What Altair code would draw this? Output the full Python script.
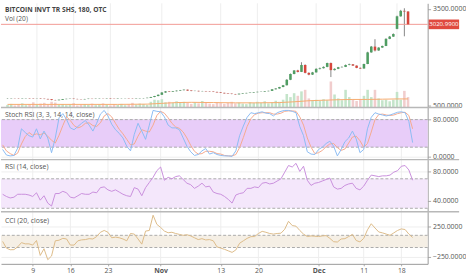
import altair as alt
import pandas as pd

# ---------------- data ----------------
bar_index = list(range(110))
opens = [716,720,726,722,717,724,729,722,716,720,
         712,706,694,672,666,681,700,708,713,705,
         699,694,703,711,706,712,718,714,721,712,
         707,715,719,723,717,712,720,726,731,741,
         765,795,835,905,940,928,946,962,978,992,
         966,951,956,944,950,941,934,924,909,894,
         879,868,858,848,868,881,892,902,915,926,
         931,946,956,1005,1030,1075,1130,1300,1480,1590,
         1545,1760,1515,1460,1530,1640,1660,1700,1820,1600,
         1640,1690,1700,1760,1780,1740,1670,1650,1790,2150,
         2330,2210,2300,2350,2570,2640,2880,3270,3440,3420]
highs = [728,730,729,725,728,733,731,726,725,722,
         715,709,697,678,685,704,712,718,716,709,
         702,707,715,714,716,722,721,725,723,715,
         719,723,727,725,720,724,730,735,746,770,
         800,842,915,948,945,952,968,984,1000,995,
         970,962,959,955,953,945,937,928,912,898,
         884,872,862,873,886,896,906,919,930,936,
         950,960,1010,1036,1080,1140,1320,1495,1600,1610,
         1845,1780,1530,1545,1655,1680,1715,1830,1835,1655,
         1700,1715,1775,1800,1790,1745,1680,1800,2170,2350,
         2560,2310,2360,2590,2660,2740,3290,3470,3520,3430]
lows = [712,716,718,712,714,720,718,710,712,706,
        700,688,665,660,662,678,696,704,700,694,
        688,691,700,701,703,709,710,711,708,703,
        704,712,716,713,708,709,717,722,728,738,
        760,790,830,898,920,925,940,958,972,960,
        945,946,938,940,935,928,919,904,889,874,
        863,852,842,845,865,877,888,898,911,921,
        927,942,952,1000,1025,1070,1125,1290,1470,1530,
        1540,1500,1440,1450,1525,1620,1650,1690,1385,1590,
        1630,1680,1695,1750,1730,1660,1640,1645,1785,2140,
        2180,2200,2290,2345,2560,2630,2870,3260,2650,3010]
closes = [720,726,722,717,724,729,722,716,720,712,
          706,694,672,666,681,700,708,713,705,699,
          694,703,711,706,712,718,714,721,712,707,
          715,719,723,717,712,720,726,731,741,765,
          795,835,905,940,928,946,962,978,992,966,
          951,956,944,950,941,934,924,909,894,879,
          868,858,848,868,881,892,902,915,926,931,
          946,956,1005,1030,1075,1130,1300,1480,1590,1545,
          1760,1515,1460,1530,1640,1660,1700,1820,1600,1640,
          1690,1700,1760,1780,1740,1670,1650,1790,2150,2330,
          2210,2300,2350,2570,2640,2720,3270,3440,3420,3021]
volumes = [10,14,8,12,16,9,13,20,11,15,
           18,12,22,19,10,14,9,12,17,8,
           11,13,10,15,9,12,16,11,8,13,
           10,14,9,12,18,11,15,13,10,22,
           30,28,32,20,22,18,24,20,22,18,
           14,20,16,25,19,15,13,20,17,14,
           18,22,16,19,15,13,20,17,22,18,
           24,16,20,26,22,30,52,40,55,45,
           62,68,35,28,30,25,32,28,100,50,
           35,28,68,40,30,25,32,45,68,40,
           68,35,28,30,24,30,60,30,64,40]
vol_ma_index = [0,10,20,30,38,42,46,50,56,62,68,74,78,82,86,90,94,98,102,106,109]
vol_ma_values = [12,12,12,12,13,16,19,20,19,18,18,19,22,26,28,30,31,31,32,33,33]

stoch_k = [15,3,1,2,18,60,52,45,42,60,
           38,55,40,8,40,84,93,80,62,58,
           65,72,78,68,55,72,92,100,88,70,
           58,50,40,22,12,48,72,55,37,68,
           100,98,97,86,68,62,62,58,40,22,
           10,2,4,12,17,5,8,4,2,1,
           1,0,12,45,66,85,95,93,95,97,
           94,93,88,95,98,100,100,98,95,65,
           45,10,5,4,15,20,28,33,22,1,
           15,32,40,55,38,8,15,60,85,95,
           92,90,88,90,93,96,97,95,76,30]
stoch_d = [25,12,6,2,7,27,43,52,46,49,
           47,51,44,35,29,46,67,86,78,67,
           62,65,72,73,67,65,73,88,93,86,
           72,59,49,37,25,27,44,58,55,53,
           68,89,98,94,84,72,64,61,53,40,
           24,11,5,6,11,11,10,6,5,2,
           1,1,4,19,41,65,82,91,94,95,
           95,95,92,92,94,98,99,99,98,86,
           68,40,20,6,8,13,21,27,28,19,
           13,16,29,42,44,34,20,28,53,80,
           91,92,90,89,90,93,95,96,89,60]
rsi = [49,46,44,45,49,49,49,48,46,51,
       41,47,37,33,50,50,53,51,45,44,
       47,50,49,49,52,51,58,59,55,53,
       55,52,49,47,46,58,56,47,58,65,
       72,81,86,68,72,70,73,74,69,64,
       62,57,60,64,59,60,52,50,49,46,
       42,37,48,50,51,57,57,59,58,64,
       65,63,64,67,70,79,88,86,91,80,
       87,68,61,64,65,67,69,71,59,56,
       57,61,63,64,57,55,60,68,75,74,
       73,74,74,75,79,81,87,88,82,68]
cci = [0,-110,-137,-135,-90,-20,-40,-40,-60,15,
       -230,-120,-300,-240,10,20,50,40,-60,-60,
       10,25,30,45,40,80,150,180,150,60,
       70,60,40,10,130,120,40,-45,169,180,
       430,280,230,170,142,150,130,115,100,110,
       90,60,30,45,24,30,10,-90,-110,-130,
       -155,-180,-140,-30,10,50,78,80,130,165,
       150,130,120,130,135,200,330,260,250,180,
       120,80,90,85,80,90,95,50,-5,-10,
       40,45,80,115,15,-8,50,190,290,220,
       155,140,120,100,140,180,205,195,120,65]

tick_pos = [8, 18, 28, 42, 58, 68, 84, 96, 106]
tick_labels = ["9", "16", "23", "Nov", "13", "20", "Dec", "11", "18"]
bold_labels = ["Nov", "Dec"]
last_price = 3020.99
title_main = "BITCOIN INVT TR SHS, 180, OTC"
title_vol = "Vol (20)"
title_stoch = "Stoch RSI (3, 3, 14, 14, close)"
title_rsi = "RSI (14, close)"
title_cci = "CCI (20, close)"
stoch_band = [20, 80]
rsi_band = [30, 70]
cci_band = [-100, 100]

# ---------------- style ----------------
FONT = "Open Sans"
W = 434
H_MAIN, H_SUB = 106, 53
GRID = "#eeeeee"
UP, DOWN = "#4f9d62", "#d6463c"
VUP, VDOWN = "#c4e4ca", "#f1cdcd"
AX = "#555555"

df = pd.DataFrame({"i": bar_index, "open": opens, "high": highs, "low": lows,
                   "close": closes, "volume": volumes,
                   "k": stoch_k, "d": stoch_d, "rsi": rsi, "cci": cci})
ma_df = pd.DataFrame({"i": vol_ma_index, "v": vol_ma_values})
ticks_df = pd.DataFrame({"pos": tick_pos, "label": tick_labels})
one = pd.DataFrame({"a": [0]})

xscale = alt.Scale(domain=[-0.44, 113], nice=False, zero=False)

label_expr = " : ".join(f"datum.value == {p} ? '{l}'" for p, l in zip(tick_pos, tick_labels)) + " : ''"
bold_test = " || ".join(f"datum.value == {p}" for p, l in zip(tick_pos, tick_labels) if l in bold_labels)
bottom_axis = alt.Axis(values=tick_pos, labelExpr=label_expr, title=None, grid=False,
                       labelFontSize=7, labelColor=AX, tickSize=2, tickColor="#aaa",
                       domainColor="#999", labelPadding=1,
                       labelFontWeight={"condition": {"test": bold_test, "value": "bold"}, "value": "normal"})


def xenc(field, axis):
    return alt.X(f"{field}:Q", scale=xscale, axis=axis)


def yaxis(values):
    return alt.Axis(orient="right", values=values, format=".4f", title=None,
                    labelFontSize=7, labelColor=AX, tickSize=3, tickColor="#aaa",
                    domainColor="#999", gridColor=GRID, labelPadding=2,
                    labelOverlap=False, labelFlush=False)


def vgrid(axis):
    return alt.Chart(ticks_df).mark_rule(color=GRID, strokeWidth=1).encode(x=xenc("pos", axis))


def label(text, y, weight="normal", color="#555", size=7):
    return alt.Chart(one).mark_text(align="left", baseline="middle", fontSize=size,
                                    fontWeight=weight, color=color).encode(
        x=alt.value(4), y=alt.value(y), text=alt.value(text))


def separator():
    return alt.Chart(one).mark_rule(color="#b8b8b8", strokeWidth=1.5).encode(
        x=alt.value(0), x2=alt.value(466), y=alt.value(0))


def band(lo, hi, yscale, fill, axis):
    bd = pd.DataFrame({"lo": [lo], "hi": [hi]})
    rect = alt.Chart(bd).mark_rect(color=fill).encode(
        x=alt.value(0), x2=alt.value(W),
        y=alt.Y("hi:Q", scale=yscale, axis=axis), y2="lo:Q")
    lines = alt.Chart(pd.DataFrame({"v": [lo, hi]})).mark_rule(
        color="#aaaaaa", strokeDash=[3, 2], strokeWidth=1).encode(
        y=alt.Y("v:Q", scale=yscale))
    return rect, lines


# ---------------- main panel ----------------
price_scale = alt.Scale(domain=[439, 3674], nice=False, zero=False)
vol_scale = alt.Scale(domain=[0, 400], nice=False, zero=False)
updown = "datum.close >= datum.open"

vol_bars = alt.Chart(df).mark_bar(size=2.6).encode(
    x=xenc("i", None),
    y=alt.Y("volume:Q", scale=vol_scale, axis=None),
    color=alt.condition(updown, alt.value(VUP), alt.value(VDOWN)))
vol_ma = alt.Chart(ma_df).mark_line(color="#f6aa6e", strokeWidth=1).encode(
    x=xenc("i", None), y=alt.Y("v:Q", scale=vol_scale, axis=None))
vol_layer = alt.layer(vol_bars, vol_ma)

wicks = alt.Chart(df).mark_rule(color="#666666", strokeWidth=0.8).encode(
    x=xenc("i", None),
    y=alt.Y("low:Q", scale=price_scale, axis=yaxis([500, 1000, 1500, 2000, 2500, 3000, 3500])),
    y2="high:Q")
bodies = alt.Chart(df).mark_bar(size=2.6).encode(
    x=xenc("i", None),
    y=alt.Y("open:Q", scale=price_scale), y2="close:Q",
    color=alt.condition(updown, alt.value(UP), alt.value(DOWN)))
lp = pd.DataFrame({"p": [last_price], "txt": [f"{last_price:.4f}"]})
price_line = alt.Chart(lp).mark_rule(color="#f29a94", strokeWidth=1).encode(
    x=alt.value(0), x2=alt.value(W), y=alt.Y("p:Q", scale=price_scale))
price_box = alt.Chart(lp).transform_calculate(
    lo="datum.p - 150", hi="datum.p + 150").mark_rect(color="#e04a3f").encode(
    x=alt.value(435), x2=alt.value(466),
    y=alt.Y("lo:Q", scale=price_scale), y2="hi:Q")
price_txt = alt.Chart(lp).mark_text(align="center", baseline="middle", fontSize=6.2,
                                    color="white").encode(
    x=alt.value(450.5), y=alt.Y("p:Q", scale=price_scale), text="txt:N")
price_layer = alt.layer(wicks, price_line, bodies, price_box, price_txt)

main = alt.layer(
    vgrid(None), vol_layer, price_layer,
    label(title_main, 7, "bold", "#444", 6.8), label(title_vol, 16, size=6.8)
).resolve_scale(y="independent").properties(width=W, height=H_MAIN)

# ---------------- stoch rsi ----------------
st_scale = alt.Scale(domain=[-7.1, 106.3], nice=False, zero=False)
st_rect, st_lines = band(stoch_band[0], stoch_band[1], st_scale, "#e8cdf9", yaxis([0, 40, 80]))
k_line = alt.Chart(df).mark_line(color="#8cbcf3", strokeWidth=1).encode(
    x=xenc("i", None), y=alt.Y("k:Q", scale=st_scale))
d_line = alt.Chart(df).mark_line(color="#f5a98e", strokeWidth=1).encode(
    x=xenc("i", None), y=alt.Y("d:Q", scale=st_scale))
stoch = alt.layer(vgrid(None), st_rect, st_lines, d_line, k_line, separator(),
                  label(title_stoch, 8)).properties(width=W, height=H_SUB)

# ---------------- rsi ----------------
r_scale = alt.Scale(domain=[25.3, 96], nice=False, zero=False)
r_rect, r_lines = band(rsi_band[0], rsi_band[1], r_scale, "#f4e7fb", yaxis([40, 60, 80]))
r_line = alt.Chart(df).mark_line(color="#c98fdc", strokeWidth=1).encode(
    x=xenc("i", None), y=alt.Y("rsi:Q", scale=r_scale))
rsi_chart = alt.layer(vgrid(None), r_rect, r_lines, r_line, separator(),
                      label(title_rsi, 8)).properties(width=W, height=H_SUB)

# ---------------- cci ----------------
c_scale = alt.Scale(domain=[-368, 487], nice=False, zero=False)
c_rect, c_lines = band(cci_band[0], cci_band[1], c_scale, "#f5efe5", yaxis([-250, 0, 250]))
c_line = alt.Chart(df).mark_line(color="#dcbb88", strokeWidth=1).encode(
    x=xenc("i", bottom_axis), y=alt.Y("cci:Q", scale=c_scale))
c_grid = alt.Chart(ticks_df).mark_rule(color=GRID, strokeWidth=1).encode(x=xenc("pos", bottom_axis))
cci_chart = alt.layer(c_grid, c_rect, c_lines, c_line, separator(),
                      label(title_cci, 9)).properties(width=W, height=H_SUB)

chart = alt.vconcat(main, stoch, rsi_chart, cci_chart, spacing=0, bounds="flush").properties(
    padding=0
).configure(font=FONT).configure_view(stroke=None)

chart.save("out.html", embed_options={"renderer": "svg", "actions": False})
